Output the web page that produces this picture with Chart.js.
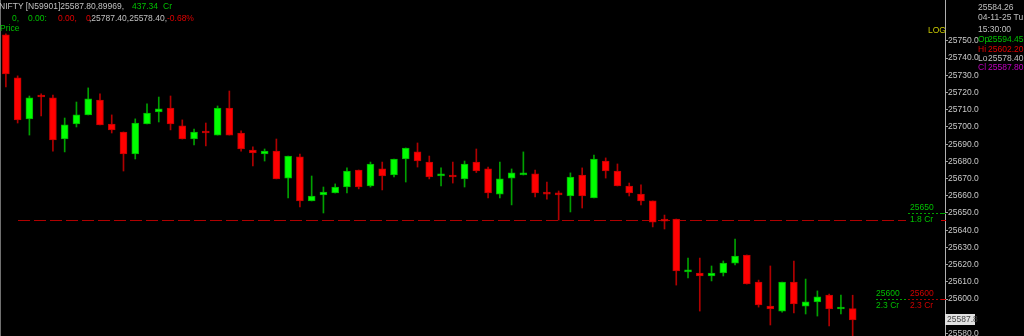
<!DOCTYPE html>
<html lang="en">
<head>
    <meta charset="UTF-8">
    <title>NIFTY Candles</title>
    <script src="https://cdn.jsdelivr.net/npm/chart.js"></script>
    <style>
        body { margin: 0; background: #000; overflow: hidden; }
        #wrap { position: relative; width: 1024px; height: 336px; overflow: hidden; background: #000;
                font: 8.5px "Liberation Sans", Arial, sans-serif; }
        #wrap canvas { display: block; }
        .t { position: absolute; white-space: pre; line-height: 10px; }
        .g { color: #00c000; }
        .r { color: #e00000; }
        .w { color: #c0c0c0; }
        .m { color: #c000c0; }
        .y { color: #c8c800; }
    </style>
</head>
<body>
<div id="wrap">
    <canvas id="priceChart" width="1024" height="336"></canvas>

    <span class="t w" style="left:-1px;top:1px">NIFTY [N59901]25587.80,89969,</span>
    <span class="t g" style="left:132px;top:1px">437.34</span>
    <span class="t g" style="left:163px;top:1px">Cr</span>
    <span class="t g" style="left:12px;top:13px">0,</span>
    <span class="t g" style="left:28px;top:13px">0.00:</span>
    <span class="t r" style="left:58px;top:13px">0.00,</span>
    <span class="t r" style="left:86px;top:13px">0</span>
    <span class="t w" style="left:89px;top:13px">,25787.40,25578.40,</span>
    <span class="t r" style="left:167px;top:13px">-0.68%</span>
    <span class="t g" style="left:0px;top:23px">Price</span>

    <span class="t y" style="left:928px;top:25px">LOG</span>

    <span class="t w" style="left:978px;top:2px">25584.26</span>
    <span class="t w" style="left:978px;top:12px">04-11-25 Tu</span>
    <span class="t w" style="left:978px;top:24px">15:30:00</span>
    <span class="t g" style="left:978px;top:34px">Op</span><span class="t g" style="left:988px;top:34px">25594.45</span>
    <span class="t r" style="left:978px;top:44px">Hi</span><span class="t r" style="left:988px;top:44px">25602.20</span>
    <span class="t w" style="left:978px;top:53px">Lo</span><span class="t w" style="left:988px;top:53px">25578.40</span>
    <span class="t m" style="left:978px;top:62px">Cl</span><span class="t m" style="left:988px;top:62px">25587.80</span>
</div>

<script>
    // OHLC per candle
    const opens = [25753.5, 25728.5, 25704.7, 25718.0, 25716.9, 25693.0, 25701.7, 25707.0, 25715.7, 25701.7,
        25697.1, 25684.3, 25701.7, 25708.7, 25711.0, 25700.6, 25693.0, 25697.1, 25695.3, 25711.0,
        25696.5, 25686.6, 25684.3, 25686.0, 25670.3, 25682.6, 25657.0, 25660.5, 25661.6, 25665.1,
        25675.0, 25665.7, 25675.6, 25672.1, 25681.4, 25685.5, 25679.6, 25671.5, 25672.1, 25669.8,
        25679.6, 25675.6, 25661.0, 25670.3, 25672.1, 25672.7, 25661.6, 25661.0, 25659.9, 25672.1,
        25658.7, 25680.2, 25674.4, 25665.7, 25661.0, 25657.0, 25646.5, 25646.5, 25615.7, 25615.1,
        25613.4, 25615.1, 25620.9, 25625.6, 25609.9, 25595.9, 25593.0, 25609.9, 25595.9, 25598.3,
        25602.3, 25594.2, 25594.45];
    const highs = [25754.1, 25729.7, 25718.0, 25719.2, 25718.6, 25705.2, 25714.5, 25722.7, 25719.2, 25707.0,
        25697.1, 25704.7, 25713.4, 25717.4, 25718.0, 25704.1, 25698.8, 25702.3, 25712.2, 25720.9,
        25697.7, 25688.4, 25687.2, 25693.0, 25683.1, 25684.3, 25671.5, 25665.1, 25666.9, 25676.2,
        25675.0, 25679.6, 25679.6, 25681.4, 25687.8, 25690.7, 25683.1, 25676.2, 25679.6, 25680.2,
        25687.2, 25676.7, 25679.6, 25675.6, 25685.5, 25675.0, 25668.0, 25662.8, 25673.3, 25676.2,
        25683.7, 25682.0, 25678.5, 25667.4, 25666.3, 25657.0, 25648.8, 25646.5, 25623.8, 25623.8,
        25619.2, 25622.1, 25634.9, 25625.6, 25611.0, 25619.2, 25609.9, 25622.1, 25611.6, 25604.7,
        25602.9, 25602.3, 25602.2];
    const lows = [25723.3, 25702.3, 25695.3, 25706.4, 25686.0, 25685.5, 25700.0, 25707.0, 25701.2, 25696.5,
        25674.4, 25681.4, 25701.7, 25702.9, 25698.3, 25693.0, 25689.5, 25689.0, 25695.3, 25695.3,
        25686.0, 25677.3, 25680.2, 25669.8, 25658.7, 25653.5, 25657.0, 25650.0, 25661.6, 25661.6,
        25664.0, 25665.1, 25663.4, 25670.9, 25668.0, 25676.7, 25669.8, 25665.7, 25667.4, 25665.1,
        25673.5, 25658.7, 25658.7, 25654.7, 25672.1, 25659.3, 25658.1, 25645.9, 25650.6, 25652.9,
        25658.7, 25670.3, 25665.7, 25659.9, 25654.7, 25641.9, 25640.7, 25608.1, 25612.2, 25593.0,
        25610.5, 25613.4, 25619.8, 25608.7, 25595.3, 25584.9, 25592.4, 25591.9, 25591.3, 25590.1,
        25584.3, 25591.3, 25578.4];
    const closes = [25730.8, 25704.1, 25716.9, 25717.4, 25692.4, 25701.2, 25707.0, 25716.3, 25701.2, 25698.3,
        25684.3, 25702.3, 25708.1, 25710.5, 25701.7, 25693.0, 25697.1, 25696.5, 25711.0, 25695.3,
        25687.2, 25684.9, 25686.0, 25669.8, 25683.1, 25657.0, 25659.9, 25662.2, 25665.1, 25674.4,
        25665.1, 25678.5, 25671.5, 25681.4, 25687.8, 25680.2, 25670.9, 25672.7, 25670.9, 25678.5,
        25674.4, 25661.6, 25669.8, 25673.3, 25673.3, 25661.6, 25661.0, 25660.5, 25670.9, 25659.9,
        25681.4, 25674.4, 25665.7, 25661.6, 25657.0, 25644.7, 25645.3, 25616.3, 25616.9, 25613.4,
        25615.1, 25620.9, 25625.0, 25608.7, 25596.5, 25594.2, 25609.9, 25597.1, 25598.3, 25601.2,
        25594.2, 25594.8, 25587.8];

    // horizontal levels
    const dashLevel = 25645.9;
    const levelPrices = [25650, 25600];
    const levelVolumes = ['1.8 Cr', '2.3 Cr'];
    const lastPrice = 25587.8;

    const isUp = closes.map((c, i) => c >= opens[i]);

    const wickData = lows.map((l, i) => ({ x: i, y: [l, highs[i]] }));
    const bodyData = opens.map((o, i) => ({ x: i, y: [o, closes[i]] }));

    const levelsPlugin = {
        id: 'levels',
        beforeDatasetsDraw(chart) {
            const { ctx, scales: { y } } = chart;
            const py = Math.round(y.getPixelForValue(dashLevel)) + 0.5;
            ctx.save();
            ctx.strokeStyle = '#b00000';
            ctx.lineWidth = 1;
            ctx.setLineDash([12, 4]);
            ctx.beginPath();
            ctx.moveTo(18, py);
            ctx.lineTo(906, py);
            ctx.stroke();
            ctx.restore();
        },
        afterDraw(chart) {
            const { ctx, chartArea, scales: { y } } = chart;
            const right = chartArea.right;
            ctx.save();
            ctx.font = '8.5px "Liberation Sans", Arial, sans-serif';
            ctx.textBaseline = 'middle';

            // left border
            ctx.strokeStyle = '#707070';
            ctx.beginPath();
            ctx.moveTo(0.5, 0);
            ctx.lineTo(0.5, chart.height);
            ctx.stroke();

            // 25650 level
            let py = Math.round(y.getPixelForValue(levelPrices[0])) + 0.5;
            ctx.setLineDash([2, 2]);
            ctx.strokeStyle = '#00a000';
            ctx.beginPath(); ctx.moveTo(908, py); ctx.lineTo(right, py); ctx.stroke();
            ctx.setLineDash([]);
            ctx.fillStyle = '#00c000';
            ctx.fillText(String(levelPrices[0]), 910, py - 6);
            ctx.fillText(levelVolumes[0], 910, py + 6);
            ctx.beginPath(); ctx.moveTo(right - 4, py); ctx.lineTo(right + 1, py); ctx.stroke();

            // 25600 level
            py = Math.round(y.getPixelForValue(levelPrices[1])) + 0.5;
            ctx.setLineDash([2, 2]);
            ctx.strokeStyle = '#00a000';
            ctx.beginPath(); ctx.moveTo(876, py); ctx.lineTo(908, py); ctx.stroke();
            ctx.strokeStyle = '#a00000';
            ctx.beginPath(); ctx.moveTo(908, py); ctx.lineTo(right, py); ctx.stroke();
            ctx.setLineDash([]);
            ctx.fillStyle = '#00c000';
            ctx.fillText(String(levelPrices[1]), 876, py - 6);
            ctx.fillText(levelVolumes[1], 876, py + 6);
            ctx.fillStyle = '#d00000';
            ctx.fillText(String(levelPrices[1]), 910, py - 6);
            ctx.fillText(levelVolumes[1], 910, py + 6);
            ctx.strokeStyle = '#d00000';
            ctx.beginPath(); ctx.moveTo(right - 4, py); ctx.lineTo(right + 1, py); ctx.stroke();

            // dashed level tick on the axis
            py = Math.round(y.getPixelForValue(dashLevel)) + 0.5;
            ctx.beginPath(); ctx.moveTo(right - 4, py); ctx.lineTo(right + 1, py); ctx.stroke();

            // last price box
            py = y.getPixelForValue(lastPrice);
            ctx.fillStyle = '#e0e0e0';
            ctx.fillRect(right, Math.round(py) - 6, 30, 11);
            ctx.fillStyle = '#404040';
            ctx.fillText(lastPrice.toFixed(1), right + 2, py - 0.5);
            ctx.restore();
        }
    };

    new Chart(document.getElementById('priceChart').getContext('2d'), {
        type: 'bar',
        data: {
            datasets: [
                {
                    label: 'Wick',
                    data: wickData,
                    backgroundColor: isUp.map(u => u ? '#00a000' : '#b00000'),
                    grouped: false,
                    barPercentage: 1,
                    categoryPercentage: 1,
                    maxBarThickness: 1,
                    order: 2
                },
                {
                    label: 'Body',
                    data: bodyData,
                    backgroundColor: isUp.map(u => u ? '#00ff00' : '#ff0000'),
                    borderColor: isUp.map(u => u ? '#00b000' : '#c00000'),
                    borderWidth: 1,
                    borderSkipped: false,
                    grouped: false,
                    barPercentage: 1,
                    categoryPercentage: 1,
                    maxBarThickness: 7,
                    minBarLength: 2,
                    order: 1
                }
            ]
        },
        options: {
            responsive: false,
            animation: false,
            devicePixelRatio: 1,
            layout: { padding: 0 },
            plugins: {
                legend: { display: false },
                tooltip: { enabled: false }
            },
            scales: {
                x: {
                    type: 'linear',
                    min: -0.5,
                    max: 79.85,
                    offset: false,
                    display: false
                },
                y: {
                    position: 'right',
                    min: 25578.5,
                    max: 25773.8,
                    beginAtZero: false,
                    afterFit: s => { s.width = 79; s.paddingTop = 0; s.paddingBottom = 0; },
                    // no labels above 25750 (info block) or under the last price box
                    afterBuildTicks: s => {
                        s.ticks = s.ticks.filter(t => t.value <= 25750 && Math.abs(t.value - lastPrice) > 5);
                    },
                    ticks: {
                        stepSize: 10,
                        includeBounds: false,
                        autoSkip: false,
                        padding: 0,
                        color: '#c8c8c8',
                        font: { family: 'Liberation Sans', size: 8.5 },
                        callback: v => v.toFixed(1)
                    },
                    grid: { drawOnChartArea: false, tickLength: 3, color: '#a0a0a0' },
                    border: { color: '#b0b0b0' }
                }
            }
        },
        plugins: [levelsPlugin]
    });
</script>
</body>
</html>
